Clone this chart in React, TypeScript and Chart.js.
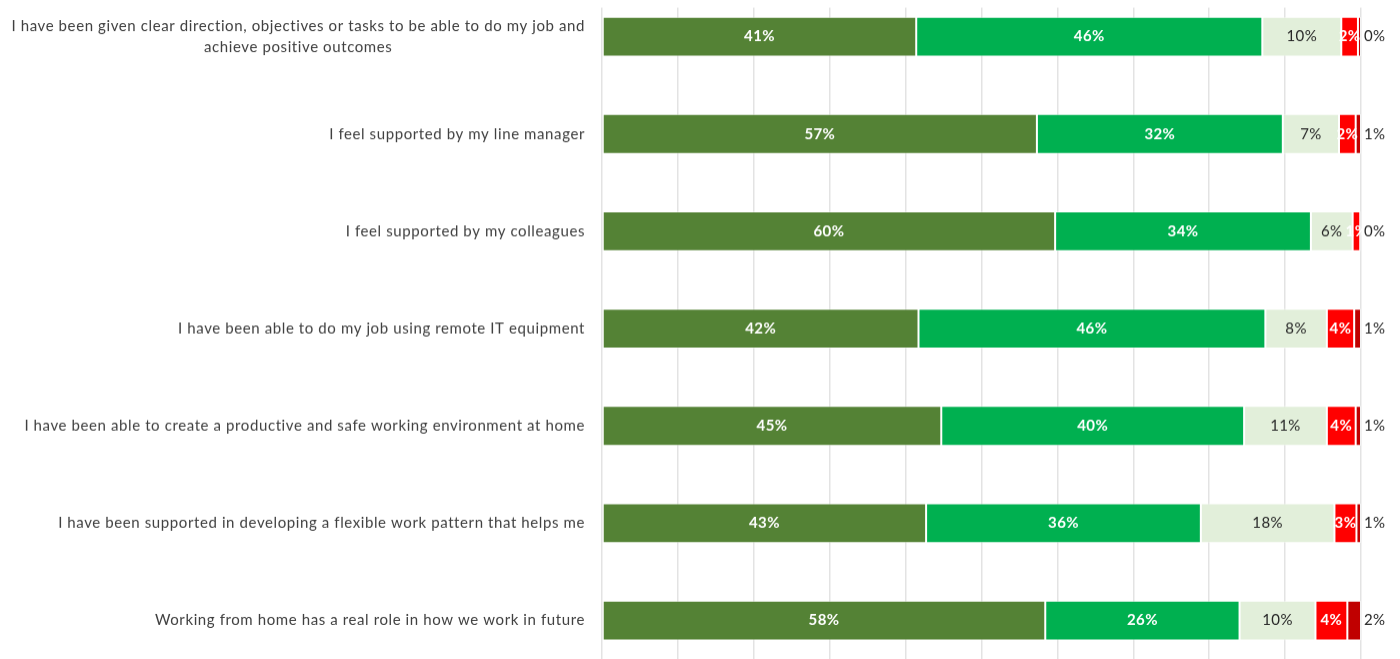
import React, { useEffect, useRef } from "react";
import { Chart, registerables } from "chart.js";

Chart.register(...registerables);

const categories: string[][] = [
  ["I have been given clear direction, objectives or tasks to be able to do my job and", "achieve positive outcomes"],
  ["I feel supported by my line manager"],
  ["I feel supported by my colleagues"],
  ["I have been able to do my job using remote IT equipment"],
  ["I have been able to create a productive and safe working environment at home"],
  ["I have been supported in developing a flexible work pattern that helps me"],
  ["Working from home has a real role in how we work in future"],
];

const stronglyAgree = [41.4, 57.3, 59.7, 41.7, 44.7, 42.7, 58.4];
const agree = [45.6, 32.4, 33.7, 45.7, 39.9, 36.2, 25.6];
const neutral = [10.4, 7.4, 5.5, 8.1, 10.9, 17.6, 10.0];
const disagree = [2.2, 2.2, 1.0, 3.6, 3.8, 2.9, 4.2];
const stronglyDisagree = [0.4, 0.7, 0.1, 0.9, 0.7, 0.6, 1.8];

const seriesNames = ["Strongly agree", "Agree", "Neither", "Disagree", "Strongly disagree"];
const colors = ["#548235", "#00B050", "#E2EFDA", "#FF0000", "#C00000"];

const FONT = "Lato, 'Open Sans', sans-serif";
const TEXT = "#404040";
const VALUE_TEXT = "#262626";

const maskPlugin = {
  id: "gridMask",
  beforeDatasetsDraw(chart: any) {
    const { ctx, chartArea } = chart;
    ctx.save();
    ctx.fillStyle = "#ffffff";
    ctx.fillRect(chartArea.left - 2, 0, chartArea.right - chartArea.left + 4, 19.6);
    ctx.restore();
  },
};

const labelPlugin = {
  id: "customLabels",
  afterDatasetsDraw(chart: any) {
    const { ctx, chartArea } = chart;
    ctx.save();
    // category labels
    const yScale = chart.scales.y;
    ctx.font = `15px ${FONT}`;
    (ctx as any).letterSpacing = "0.6px";
    ctx.fillStyle = TEXT;
    ctx.textBaseline = "middle";
    ctx.textAlign = "center";
    const right = chartArea.left - 17;
    const lineH = 21;
    categories.forEach((lines, i) => {
      const yc = yScale.getPixelForTick(i);
      const w = Math.max(...lines.map((l) => ctx.measureText(l).width));
      const cx = right - w / 2;
      const y0 = yc - ((lines.length - 1) * lineH) / 2;
      lines.forEach((l, j) => ctx.fillText(l, cx, y0 + j * lineH));
    });
    // value labels
    (ctx as any).letterSpacing = "0.4px";
    chart.data.datasets.forEach((ds: any, di: number) => {
      const meta = chart.getDatasetMeta(di);
      meta.data.forEach((bar: any, i: number) => {
        const v = ds.data[i];
        const txt = Math.round(v) + "%";
        const { x, y, base } = bar.getProps(["x", "y", "base"], true);
        if (di === 4) {
          ctx.font = `15px ${FONT}`;
          ctx.fillStyle = VALUE_TEXT;
          ctx.textAlign = "left";
          ctx.fillText(txt, Math.max(x, base) + 3, y);
        } else if (di === 2) {
          ctx.font = `15px ${FONT}`;
          ctx.fillStyle = VALUE_TEXT;
          ctx.textAlign = "center";
          ctx.fillText(txt, (x + base) / 2, y);
        } else {
          ctx.font = `bold 15px ${FONT}`;
          ctx.fillStyle = "#ffffff";
          ctx.textAlign = "center";
          ctx.fillText(txt, (x + base) / 2, y);
        }
      });
    });
    ctx.restore();
  },
};

export default function App() {
  const ref = useRef<HTMLCanvasElement>(null);
  useEffect(() => {
    if (!ref.current) return;
    const seriesData = [stronglyAgree, agree, neutral, disagree, stronglyDisagree];
    const chart = new Chart(ref.current, {
      type: "bar",
      data: {
        labels: categories.map((c) => c.join(" ")),
        datasets: seriesData.map((d, i) => ({
          label: seriesNames[i],
          data: d,
          backgroundColor: colors[i],
          borderColor: "rgba(255,255,255,0.55)",
          borderWidth: 1,
          borderSkipped: false,
          barPercentage: 0.41,
          categoryPercentage: 1,
        })),
      },
      options: {
        indexAxis: "y",
        animation: false,
        responsive: true,
        maintainAspectRatio: false,
        layout: { padding: { left: 0, right: 39, top: 0, bottom: 0 } },
        plugins: { legend: { display: false }, tooltip: { enabled: false } },
        scales: {
          x: {
            stacked: true,
            min: 0,
            max: 100,
            ticks: { display: false, stepSize: 10 },
            grid: { color: "#e3e3e3", lineWidth: 1.5, drawTicks: false },
            border: { display: false },
          },
          y: {
            stacked: true,
            ticks: { display: false },
            grid: { display: false, drawTicks: false },
            border: { display: false },
            afterFit: (scale: any) => {
              scale.width = 602;
            },
          },
        },
      },
      plugins: [maskPlugin, labelPlugin],
    });
    return () => chart.destroy();
  }, []);
  return (
    <div style={{ position: "fixed", left: 0, top: 0, width: 1400, height: 659, overflow: "hidden", background: "#fff" }}>
      <div style={{ position: "absolute", left: 0, top: -11.6, width: 1400, height: 680.2 }}>
        <canvas ref={ref} />
      </div>
    </div>
  );
}
